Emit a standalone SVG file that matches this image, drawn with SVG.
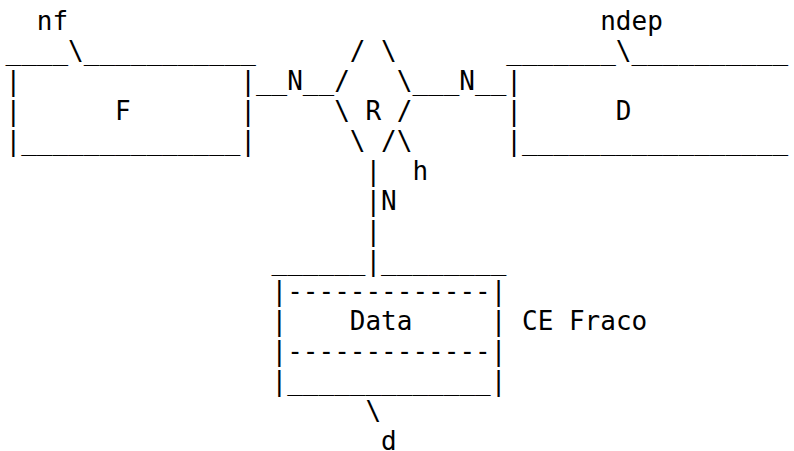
<svg xmlns="http://www.w3.org/2000/svg" width="794" height="451" viewBox="0 0 794 451">
<style>
text { font-family: "DejaVu Sans Mono", "Liberation Mono", monospace; font-size: 26px; fill: #000; white-space: pre; }
</style>
<rect width="794" height="451" fill="#fff"/>
<g id="entity-F">
<text x="36.8" y="30">nf</text>
<text x="5.5" y="60">____\___________</text>
<text x="5.5" y="90">|              |</text>
<text x="5.5" y="120">|      F       |</text>
<text x="5.5" y="150">|______________|</text>
</g>
<g id="relationship-R">
<text x="349.8" y="60">/ \</text>
<text x="334.15" y="90">/   \</text>
<text x="334.15" y="120">\ R /</text>
<text x="349.8" y="150">\ /</text>
</g>
<g id="attribute-h">
<text x="396.75" y="150">\</text>
<text x="412.4" y="180">h</text>
</g>
<g id="entity-D">
<text x="600.2" y="30">ndep</text>
<text x="506.3" y="60">_______\__________</text>
<text x="506.3" y="90">|</text>
<text x="506.3" y="120">|      D</text>
<text x="506.3" y="150">|_________________</text>
</g>
<g id="weak-entity-Data">
<text x="271.55" y="270">______</text>
<text x="381.1" y="270">________</text>
<text x="271.55" y="300">|-------------|</text>
<text x="271.55" y="330">|    Data     | CE Fraco</text>
<text x="271.55" y="360">|-------------|</text>
<text x="271.55" y="390">|_____________|</text>
</g>
<g id="attribute-d">
<text x="365.45" y="420">\</text>
<text x="381.1" y="450">d</text>
</g>
<g id="connectors">
<text x="255.9" y="90">__N__</text>
<text x="412.4" y="90">___N__</text>
<text x="365.45" y="180">|</text>
<text x="365.45" y="210">|N</text>
<text x="365.45" y="240">|</text>
<text x="365.45" y="270">|</text>
</g>
</svg>
